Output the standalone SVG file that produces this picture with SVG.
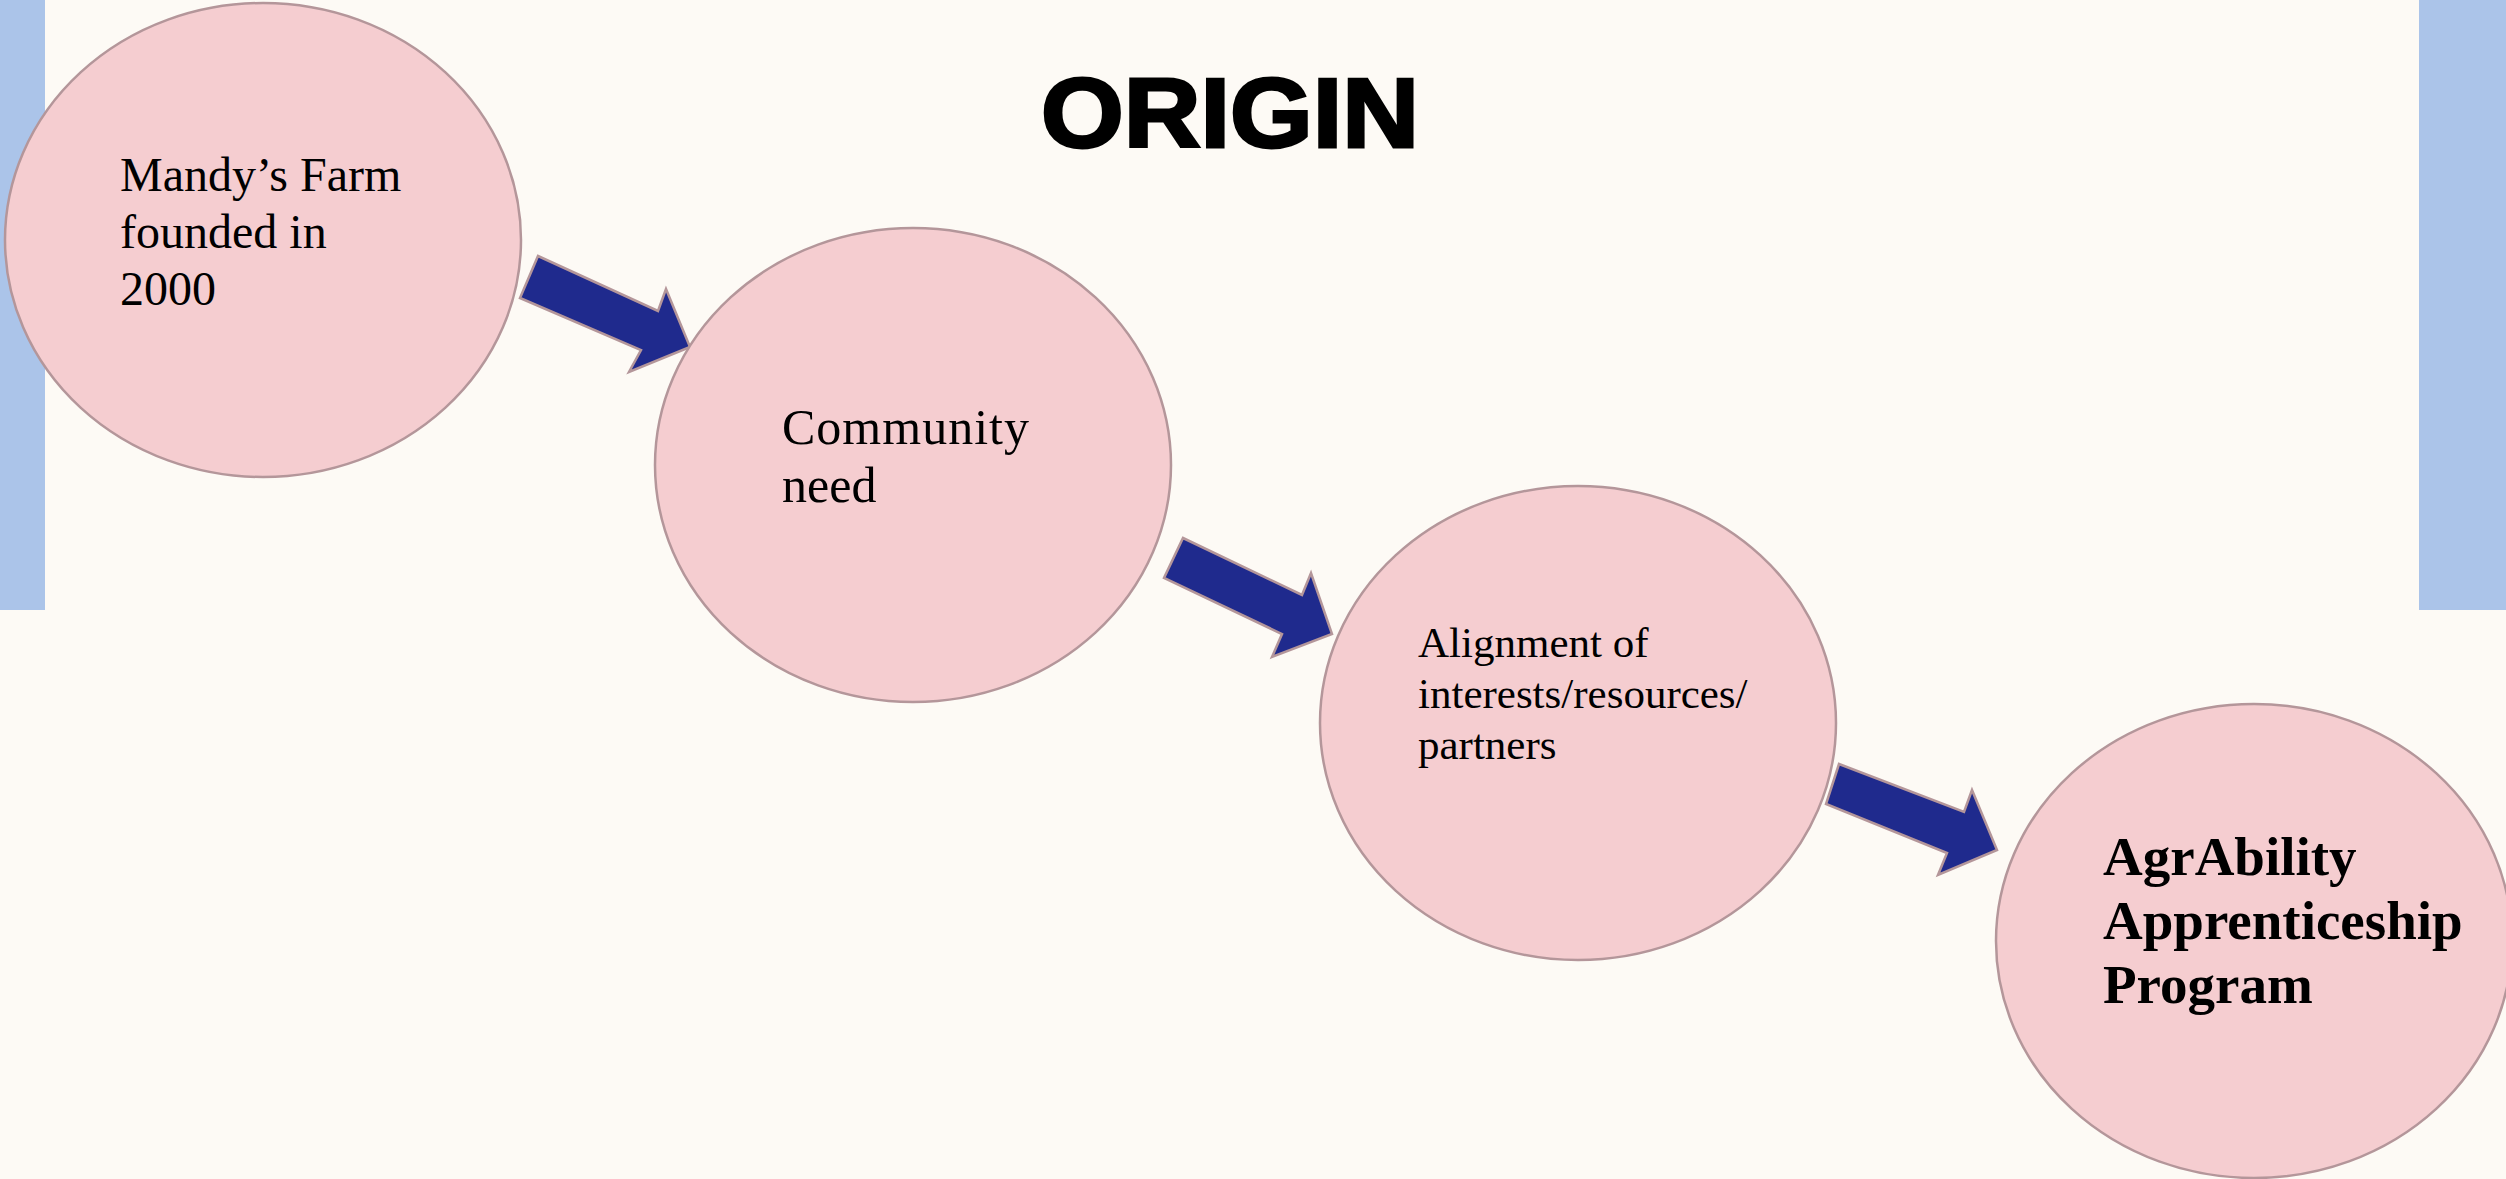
<svg xmlns="http://www.w3.org/2000/svg" width="2506" height="1179" viewBox="0 0 2506 1179">
<style>
.node{fill:#f5cdd0;stroke:#b4969a;stroke-width:2.5}
.arrow{fill:#1f2a8d;stroke:#b4969a;stroke-width:2.5;stroke-linejoin:miter}
.t{font-family:"Liberation Serif","Times New Roman",serif;fill:#000}
.title{font-family:"Liberation Sans",Arial,sans-serif;font-weight:bold;font-size:98px;fill:#000;stroke:#000;stroke-width:3}
</style>
<rect x="0" y="0" width="2506" height="1179" fill="#fdfaf5"/>
<rect x="0" y="0" width="45" height="610" fill="#abc4e9"/>
<rect x="2419" y="0" width="87" height="610" fill="#abc4e9"/>
<text class="title" x="1041" y="147" textLength="378" lengthAdjust="spacingAndGlyphs">ORIGIN</text>
<g id="connectors">
<polygon class="arrow" points="538,256 658,311 666,289 690,347 629,372 641,350 520,298"/>
<polygon class="arrow" points="1183,538 1302,595 1311,573 1332,634 1272,657 1282,634 1164,578"/>
<polygon class="arrow" points="1839,764 1964,812 1972,790 1997,850 1938,875 1947,853 1826,804"/>
</g>
<g id="node1">
<ellipse class="node" cx="263" cy="240" rx="258" ry="237"/>
<text class="t" font-size="48"><tspan x="120" y="191">Mandy’s Farm</tspan><tspan x="120" y="248">founded in</tspan><tspan x="120" y="305">2000</tspan></text>
</g>
<g id="node2">
<ellipse class="node" cx="913" cy="465" rx="258" ry="237"/>
<text class="t" font-size="50"><tspan x="782" y="444" textLength="247">Community</tspan><tspan x="782" y="502">need</tspan></text>
</g>
<g id="node3">
<ellipse class="node" cx="1578" cy="723" rx="258" ry="237"/>
<text class="t" font-size="43"><tspan x="1418" y="657">Alignment of</tspan><tspan x="1418" y="708">interests/resources/</tspan><tspan x="1418" y="759">partners</tspan></text>
</g>
<g id="node4">
<ellipse class="node" cx="2254" cy="941" rx="258" ry="237"/>
<text class="t" font-size="55" font-weight="bold"><tspan x="2103" y="875">AgrAbility</tspan><tspan x="2103" y="939">Apprenticeship</tspan><tspan x="2103" y="1003">Program</tspan></text>
</g>
</svg>
